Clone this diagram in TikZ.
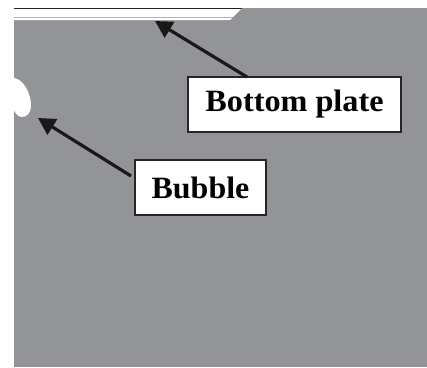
\documentclass[tikz,border=0pt]{standalone}
\usepackage{fontspec}
\setmainfont{Liberation Serif}
\usetikzlibrary{arrows.meta}
\definecolor{bggrey}{RGB}{147,148,152}
\tikzset{
  label box/.style={draw=black!85, line width=1.2pt, fill=white, inner sep=0pt, font=\fontsize{31}{34}\selectfont\bfseries},
  pointer/.style={draw=black!90, line width=3.2pt, -{Triangle[length=17pt,width=18pt]}}
}
\begin{document}
\begin{tikzpicture}[x=1pt,y=-1pt]
\useasboundingbox (0,0) rectangle (427,367);
% grey field
\fill[bggrey] (14,8) rectangle (427,367);
% bottom plate
\fill[white] (14,8) -- (242,8) -- (230,20) -- (14,20) -- cycle;
\draw[black!85, line width=1.3pt] (14,8.6) -- (242,8.6);
\draw[black!30, line width=1.3pt] (14,17.3) -- (233,17.3);
% bubble
\fill[white] (14,78) .. controls (23,79) and (31,93) .. (31,105)
  .. controls (31,113) and (27,117) .. (22,117)
  .. controls (18,117) and (15,113) .. (14,110) -- cycle;
% labels
\node[label box, minimum width=213pt, minimum height=55pt] (bp) at (294.5,104.5) {\scalebox{1.04}[1]{Bottom plate}};
\node[label box, minimum width=131pt, minimum height=55pt] (bu) at (200.5,187.5) {\scalebox{1.03}[1]{Bubble}};
\coordinate (bptip) at (155,21);
\coordinate (butip) at (38,118);
\coordinate (bptail) at (247,77);
\coordinate (butail) at (131,176);
\draw[pointer] (bptail) -- (bptip);
\draw[pointer] (butail) -- (butip);
\end{tikzpicture}
\end{document}
